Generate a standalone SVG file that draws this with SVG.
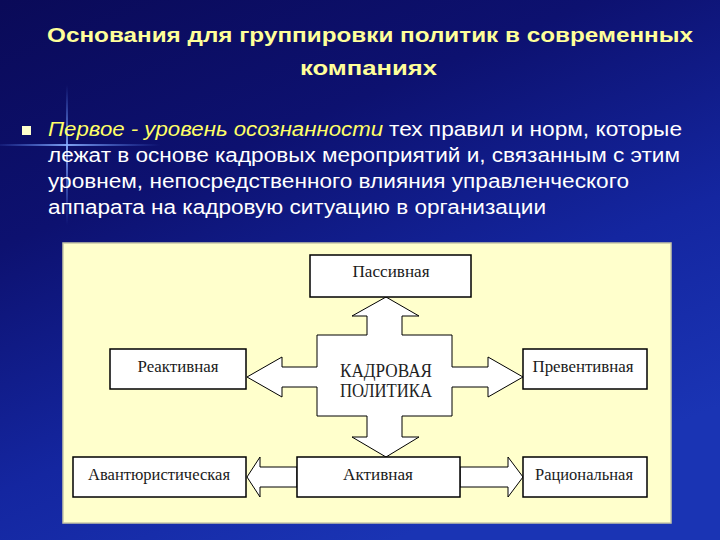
<svg xmlns="http://www.w3.org/2000/svg" width="720" height="540" viewBox="0 0 720 540">
<defs>
<linearGradient id="bg" x1="0" y1="0" x2="0.55" y2="1">
<stop offset="0" stop-color="#0a0a58"/>
<stop offset="0.35" stop-color="#0d1170"/>
<stop offset="0.7" stop-color="#1426a0"/>
<stop offset="1" stop-color="#1a34b4"/>
</linearGradient>
<linearGradient id="fv" x1="0" y1="0" x2="0" y2="1">
<stop offset="0" stop-color="#5a8aff" stop-opacity="0"/>
<stop offset="0.45" stop-color="#8ab0ff" stop-opacity="0.9"/>
<stop offset="1" stop-color="#5a8aff" stop-opacity="0"/>
</linearGradient>
<linearGradient id="fh" x1="0" y1="0" x2="1" y2="0">
<stop offset="0" stop-color="#5a8aff" stop-opacity="0.1"/>
<stop offset="0.42" stop-color="#8ab0ff" stop-opacity="0.9"/>
<stop offset="1" stop-color="#5a8aff" stop-opacity="0"/>
</linearGradient>
<style>
.title{font-family:"Liberation Sans",Arial,sans-serif;font-weight:bold;font-size:21px;fill:#ffff99}
.body{font-family:"Liberation Sans",Arial,sans-serif;font-size:20px;fill:#ffffff}
.it{font-style:italic;fill:#ffff66}
.box{fill:#ffffff;stroke:#000000;stroke-width:1.5}
.arr{fill:#ffffff;stroke:#000000;stroke-width:1}
.lbl{font-family:"Liberation Serif","Times New Roman",serif;font-size:16px;fill:#1a1a1a;text-anchor:middle}
.big{font-family:"Liberation Serif","Times New Roman",serif;font-size:18px;fill:#222222;text-anchor:middle}
</style>
</defs>
<rect x="0" y="0" width="720" height="540" fill="url(#bg)"/>
<rect x="66" y="85" width="2" height="140" fill="url(#fv)"/>
<rect x="0" y="144" width="160" height="2" fill="url(#fh)"/>

<text class="title" x="47" y="42" textLength="646" lengthAdjust="spacingAndGlyphs">Основания для группировки политик в современных</text>
<text class="title" x="300" y="75" textLength="137" lengthAdjust="spacingAndGlyphs">компаниях</text>

<rect x="22" y="126" width="9" height="9" fill="#ffffcc"/>
<text class="body it" x="48" y="136" textLength="335" lengthAdjust="spacingAndGlyphs">Первое - уровень осознанности</text>
<text class="body" x="389" y="136" textLength="293" lengthAdjust="spacingAndGlyphs">тех правил и норм, которые</text>
<text class="body" x="48" y="162" textLength="632" lengthAdjust="spacingAndGlyphs">лежат в основе кадровых мероприятий и, связанным с этим</text>
<text class="body" x="48" y="188" textLength="581" lengthAdjust="spacingAndGlyphs">уровнем, непосредственного влияния управленческого</text>
<text class="body" x="48" y="214" textLength="498" lengthAdjust="spacingAndGlyphs">аппарата на кадровую ситуацию в организации</text>

<rect x="63" y="243" width="608" height="280" fill="#ffffcc" stroke="#c8c8a8" stroke-width="1.5"/>

<g id="connectors">
<path class="arr" d="M317,335 L367,335 L367,316 L352,316 L386,297 L419,316 L402,316 L402,335 L452,335 L452,367 L488,367 L488,357 L523,377 L488,397 L488,387 L452,387 L452,416 L402,416 L402,437 L419,437 L386,457 L352,437 L367,437 L367,416 L317,416 L317,387 L282,387 L282,397 L247,377 L282,357 L282,367 L317,367 Z"/>
<path class="arr" d="M297,467 L260,467 L260,457 L247,477 L260,497 L260,487 L297,487 Z"/>
<path class="arr" d="M460,467 L508,467 L508,457 L523,477 L508,497 L508,487 L460,487 Z"/>
</g>

<g id="center">
<text class="big" x="386" y="377" textLength="92" lengthAdjust="spacingAndGlyphs">КАДРОВАЯ</text>
<text class="big" x="386" y="397" textLength="92" lengthAdjust="spacingAndGlyphs">ПОЛИТИКА</text>
</g>
<g id="passive">
<rect class="box" x="310" y="255" width="161" height="42"/>
<text class="lbl" x="391" y="277" textLength="77" lengthAdjust="spacingAndGlyphs">Пассивная</text>
</g>
<g id="reactive">
<rect class="box" x="110" y="349" width="136" height="40"/>
<text class="lbl" x="178" y="372" textLength="81" lengthAdjust="spacingAndGlyphs">Реактивная</text>
</g>
<g id="preventive">
<rect class="box" x="523" y="349" width="124" height="40"/>
<text class="lbl" x="583" y="372" textLength="101" lengthAdjust="spacingAndGlyphs">Превентивная</text>
</g>
<g id="adventurous">
<rect class="box" x="73" y="457" width="173" height="40"/>
<text class="lbl" x="159" y="480" textLength="142" lengthAdjust="spacingAndGlyphs">Авантюристическая</text>
</g>
<g id="active">
<rect class="box" x="297" y="457" width="163" height="40"/>
<text class="lbl" x="378" y="480" textLength="70" lengthAdjust="spacingAndGlyphs">Активная</text>
</g>
<g id="rational">
<rect class="box" x="523" y="457" width="124" height="40"/>
<text class="lbl" x="584" y="480" textLength="98" lengthAdjust="spacingAndGlyphs">Рациональная</text>
</g>
</svg>
